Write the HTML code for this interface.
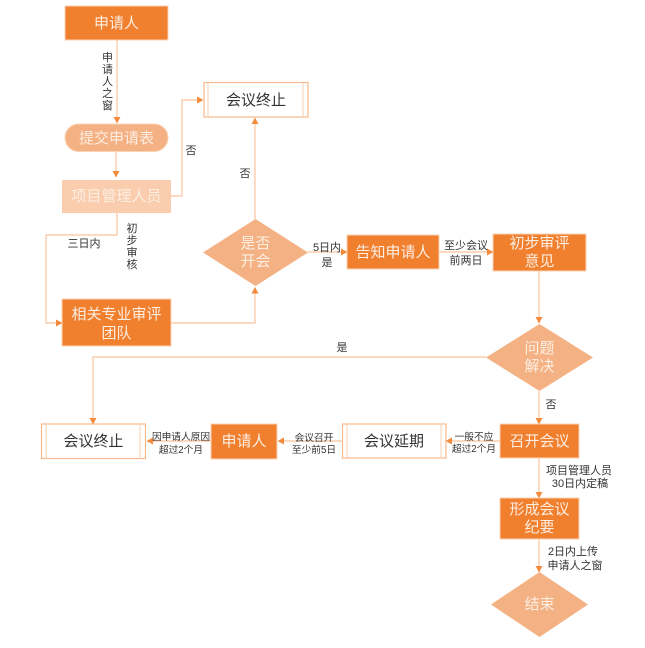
<!DOCTYPE html>
<html><head><meta charset="utf-8">
<style>
html,body{margin:0;padding:0;background:#fff;width:645px;height:648px;overflow:hidden}
svg{display:block;filter:blur(.35px)}
text{font-family:"Liberation Sans","Noto Sans CJK SC",sans-serif;text-anchor:middle}
.n{font-size:15px;fill:#fdeee2}
.d{font-size:15px;fill:#333}
.l{font-size:11px;fill:#333}
.s{font-size:9.700px;fill:#333}
.w{fill:#f07f2e;stroke:#fbd3b5;stroke-width:1}
.c{fill:none;stroke:#f9c49c;stroke-width:1.200}
.a{fill:#f38a3c}
.t{fill:#fff;stroke:#f9b98a;stroke-width:1.200}
.i{stroke:#fad0b0;stroke-width:1}
</style></head><body>
<svg width="645" height="648" viewBox="0 0 645 648" xmlns="http://www.w3.org/2000/svg">
<!-- connectors -->
<path class="c" d="M117 40V118"/><path class="a" d="M113.500 117h7l-3.500 6.500z"/>
<path class="c" d="M116 151V172"/><path class="a" d="M112.500 171h7l-3.500 6.500z"/>
<path class="c" d="M171 196H182V100H198"/><path class="a" d="M197 96.500v7l6.500-3.500z"/>
<path class="c" d="M117 213V235H46V323H56"/><path class="a" d="M56 319.500v7l6.500-3.500z"/>
<path class="c" d="M171 323H255V292"/><path class="a" d="M251.500 293.500h7l-3.500-6.500z"/>
<path class="c" d="M255 219V124"/><path class="a" d="M251.500 124h7l-3.500-6.500z"/>
<path class="c" d="M308 252H341"/><path class="a" d="M341 248.500v7l6.500-3.500z"/>
<path class="c" d="M439 252H487"/><path class="a" d="M487 248.500v7l6.500-3.500z"/>
<path class="c" d="M539 271V318"/><path class="a" d="M535.500 317h7l-3.500 6.500z"/>
<path class="c" d="M486 357H93V418"/><path class="a" d="M89.500 418h7l-3.500 6.500z"/>
<path class="c" d="M539 391V418"/><path class="a" d="M535.500 418h7l-3.500 6.500z"/>
<path class="c" d="M500 441H452"/><path class="a" d="M452 437.500v7l-6.500-3.500z"/>
<path class="c" d="M342 441H284"/><path class="a" d="M284 437.500v7l-6.500-3.500z"/>
<path class="c" d="M211 441H153"/><path class="a" d="M153 437.500v7l-6.500-3.500z"/>
<path class="c" d="M539 458V492"/><path class="a" d="M535.500 492h7l-3.500 6.500z"/>
<path class="c" d="M539 539V566"/><path class="a" d="M535.500 566h7l-3.500 6.500z"/>

<!-- nodes -->
<rect class="w" x="65" y="6" width="103" height="34"/>
<text class="n" x="116.500" y="28">申请人</text>

<rect x="65" y="124" width="103" height="27.500" rx="13.700" fill="#f4b183" stroke="#fbd3b5"/>
<text class="n" x="116.500" y="143">提交申请表</text>

<rect x="62" y="180" width="109" height="33" fill="#f9cdae"/>
<text class="n" x="116.500" y="201">项目管理人员</text>

<rect class="t" x="204" y="82.500" width="104" height="34.500"/>
<path class="i" d="M208 83V117M303 83V117"/>
<text class="d" x="256" y="105">会议终止</text>

<path d="M255.500 219L308 252.500L255.500 286L203 252.500Z" fill="#f4b183"/>
<text class="n" x="255.500" y="248">是否</text>
<text class="n" x="255.500" y="266">开会</text>

<rect class="w" x="62" y="299" width="109" height="47"/>
<text class="n" x="116.500" y="319">相关专业审评</text>
<text class="n" x="116.500" y="338">团队</text>

<rect class="w" x="347" y="235" width="92" height="34"/>
<text class="n" x="393" y="257">告知申请人</text>

<rect class="w" x="493" y="234" width="93" height="37"/>
<text class="n" x="539.500" y="248">初步审评</text>
<text class="n" x="539.500" y="266">意见</text>

<path d="M539.500 324L593 357.500L539.500 391L486 357.500Z" fill="#f4b183"/>
<text class="n" x="539.500" y="353">问题</text>
<text class="n" x="539.500" y="371">解决</text>

<rect class="w" x="500" y="424" width="79" height="34"/>
<text class="n" x="539.500" y="446">召开会议</text>

<rect class="t" x="342.500" y="424" width="103.500" height="34"/>
<path class="i" d="M347 424V458M441 424V458"/>
<text class="d" x="394" y="446">会议延期</text>

<rect class="w" x="211" y="424" width="66" height="35"/>
<text class="n" x="244" y="446">申请人</text>

<rect class="t" x="41.500" y="424" width="104" height="34.500"/>
<path class="i" d="M46 424V459M140 424V459"/>
<text class="d" x="93.500" y="446">会议终止</text>

<rect class="w" x="500" y="498" width="79" height="41"/>
<text class="n" x="539.500" y="514">形成会议</text>
<text class="n" x="539.500" y="532">纪要</text>

<path d="M539.500 572L588 604.500L539.500 637L491 604.500Z" fill="#f4b183"/>
<text class="n" x="539.500" y="609">结束</text>

<!-- labels -->
<text class="l" x="107.500" y="61">申</text>
<text class="l" x="107.500" y="73">请</text>
<text class="l" x="107.500" y="85">人</text>
<text class="l" x="107.500" y="97">之</text>
<text class="l" x="107.500" y="109">窗</text>
<text class="l" x="191" y="154">否</text>
<text class="l" x="245" y="177">否</text>
<text class="l" x="84" y="247">三日内</text>
<text class="l" x="132" y="232">初</text>
<text class="l" x="132" y="244">步</text>
<text class="l" x="132" y="256">审</text>
<text class="l" x="132" y="268">核</text>
<text class="l" x="327" y="251">5日内</text>
<text class="l" x="327" y="266">是</text>
<text class="l" x="466" y="249">至少会议</text>
<text class="l" x="466" y="264">前两日</text>
<text class="l" x="342" y="351">是</text>
<text class="l" x="551" y="408">否</text>
<text class="s" x="474" y="440">一般不应</text>
<text class="s" x="474" y="452">超过2个月</text>
<text class="s" x="314" y="441">会议召开</text>
<text class="s" x="314" y="453">至少前5日</text>
<text class="s" x="181" y="440">因申请人原因</text>
<text class="s" x="181" y="453">超过2个月</text>
<text class="l" x="579" y="474">项目管理人员</text>
<text class="l" x="580" y="487">30日内定稿</text>
<text class="l" x="573" y="555">2日内上传</text>
<text class="l" x="575" y="569">申请人之窗</text>
</svg>
</body></html>
